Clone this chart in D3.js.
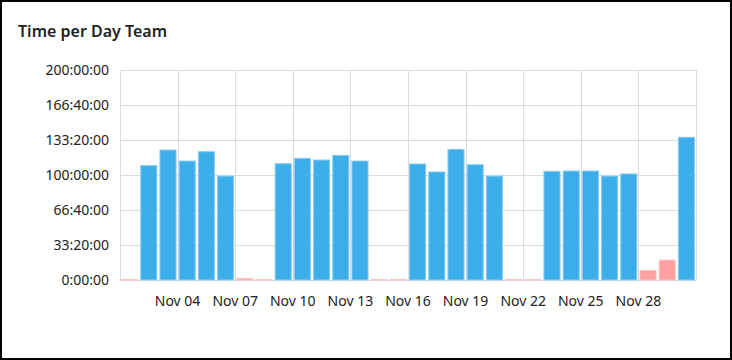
<!DOCTYPE html>
<html>
<head>
<meta charset="utf-8">
<script src="https://cdn.jsdelivr.net/npm/d3@7"></script>
<style>
  body { margin: 0; background: #fff; }
  svg { display: block; font-family: "Noto Sans", sans-serif; }
</style>
</head>
<body>
<script>
var settings = {
  width: 732,
  height: 360,
  left: 120,
  right: 696,
  top: 70,
  bottom: 280
}

// one entry per day, Nov 2020
var days = d3.range(1, 31).map(function(d){ return new Date(2020, 10, d); });
// hours logged per day
var hours = [0.5, 108.9, 123.8, 113.3, 122.2, 99, 1.5, 0.5,
  110.8, 115.9, 114.3, 118.7, 113.3, 0.5, 0.5,
  110.5, 102.9, 124.4, 109.8, 99, 0.5, 0.5,
  103.5, 103.8, 103.8, 99, 101, 9, 19, 135.9];
var tickLabels = ['Nov 04', 'Nov 07', 'Nov 10', 'Nov 13', 'Nov 16', 'Nov 19', 'Nov 22', 'Nov 25', 'Nov 28'];
var tickDays = [4, 7, 10, 13, 16, 19, 22, 25, 28];

var data = days.map(function(d, i){
  return { date: d, seconds: hours[i] * 3600, weekend: d.getDay() == 0 || d.getDay() == 6 };
});

var svg = d3.select('body').append('svg')
  .attr('width', settings.width)
  .attr('height', settings.height);

svg.append('rect')
  .attr('x', 1).attr('y', 1)
  .attr('width', settings.width - 2).attr('height', settings.height - 2)
  .style('fill', 'none').style('stroke', '#000').style('stroke-width', 2);

svg.append('text')
  .attr('x', 18).attr('y', 37)
  .style('font-size', '16px').style('font-weight', 600).style('fill', '#222')
  .text('Time per Day Team');

var x = d3.scaleBand()
  .domain(d3.range(data.length))
  .range([settings.left, settings.right])
  .paddingInner(0.16).paddingOuter(0.08);

// time axis: each day starts at its slot's left edge
var xt = d3.scaleTime()
  .domain([new Date(2020, 10, 1), new Date(2020, 11, 1)])
  .range([settings.left, settings.right]);

var y = d3.scaleLinear()
  .domain([0, 720000])
  .range([settings.bottom, settings.top]);

var fmt = function(s){
  var h = Math.floor(s / 3600), m = Math.floor(s % 3600 / 60), sec = s % 60;
  return h + ':' + d3.format('02')(m) + ':' + d3.format('02')(sec);
}

var yTicks = d3.range(0, 720001, 120000);
var gridDays = [1].concat(tickDays);

// horizontal grid
svg.append('g').selectAll('line').data(yTicks).enter().append('line')
  .attr('x1', settings.left).attr('x2', settings.right)
  .attr('y1', function(d){ return Math.round(y(d)) + 0.5; })
  .attr('y2', function(d){ return Math.round(y(d)) + 0.5; })
  .style('stroke', '#dcdcdc');

// vertical grid every 3 days
svg.append('g').selectAll('line').data(gridDays).enter().append('line')
  .attr('x1', function(d){ return Math.round(xt(new Date(2020, 10, d))) + 0.5; })
  .attr('x2', function(d){ return Math.round(xt(new Date(2020, 10, d))) + 0.5; })
  .attr('y1', settings.top).attr('y2', settings.bottom)
  .style('stroke', '#dcdcdc');
svg.append('line')
  .attr('x1', settings.right + 0.5).attr('x2', settings.right + 0.5)
  .attr('y1', settings.top).attr('y2', settings.bottom)
  .style('stroke', '#dcdcdc');

// y labels
svg.append('g').selectAll('text').data(yTicks).enter().append('text')
  .attr('x', 109)
  .attr('y', function(d){ return y(d) + 5; })
  .attr('text-anchor', 'end')
  .style('font-size', '14px').style('fill', '#222')
  .text(fmt);

// bars
svg.append('g').selectAll('rect').data(data).enter().append('rect')
  .attr('x', function(d, i){ return x(i); })
  .attr('width', x.bandwidth())
  .attr('y', function(d){ return y(d.seconds); })
  .attr('height', function(d){ return settings.bottom - y(d.seconds); })
  .style('fill', function(d){ return d.weekend ? '#ffa1a1' : '#3baeea'; })
  .style('stroke', function(d){ return d.weekend ? '#ffc4c4' : '#8ccdf1'; })
  .style('stroke-width', 1);

// x labels
svg.append('g').selectAll('text').data(tickDays).enter().append('text')
  .attr('x', function(d){ return xt(new Date(2020, 10, d)); })
  .attr('y', 306)
  .attr('text-anchor', 'middle')
  .style('font-size', '14px').style('fill', '#222')
  .text(function(d, i){ return tickLabels[i]; });
</script>
</body>
</html>
